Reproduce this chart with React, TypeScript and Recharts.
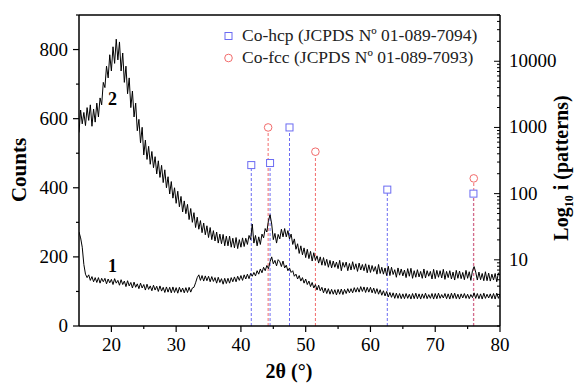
import {
    ComposedChart,
    Line,
    Scatter,
    XAxis,
    YAxis,
    ReferenceLine
} from 'recharts';

// XRD patterns, counts every 0.25° from 15° to 80°
const angleStart = 15;
const angleStep = 0.25;

const sample2Counts = [
    560, 625, 585, 618, 580, 632, 595, 640, 578, 628, 590, 645, 605, 660, 640, 705,
    690, 752, 718, 785, 738, 808, 760, 830, 770, 822, 738, 790, 705, 752, 672, 718,
    632, 680, 605, 645, 565, 598, 530, 575, 495, 538, 482, 520, 468, 505, 458, 490,
    440, 478, 430, 465, 415, 452, 400, 432, 382, 418, 370, 400, 355, 390, 345, 375,
    330, 362, 325, 352, 308, 340, 300, 328, 285, 315, 280, 305, 270, 298, 264, 290,
    256, 285, 250, 276, 246, 272, 240, 266, 238, 265, 232, 260, 232, 260, 228, 254,
    226, 256, 224, 250, 228, 255, 230, 254, 236, 262, 250, 295, 240, 262, 232, 258,
    236, 266, 255, 282, 272, 305, 322, 295, 250, 268, 240, 265, 252, 280, 258, 282,
    258, 276, 252, 266, 236, 252, 222, 238, 210, 232, 206, 226, 198, 222, 195, 216,
    188, 212, 190, 203, 182, 200, 176, 198, 175, 193, 170, 190, 168, 188, 170, 185,
    166, 190, 160, 184, 170, 185, 160, 181, 162, 186, 164, 180, 158, 182, 162, 178,
    160, 180, 154, 177, 155, 175, 158, 172, 150, 178, 152, 170, 150, 168, 146, 173,
    146, 170, 149, 163, 141, 168, 147, 165, 145, 162, 140, 166, 144, 167, 138, 160,
    141, 163, 142, 158, 138, 165, 139, 160, 144, 158, 136, 164, 137, 161, 141, 160,
    139, 164, 135, 158, 140, 160, 136, 156, 133, 161, 138, 159, 137, 155, 134, 161,
    138, 157, 132, 160, 172, 156, 133, 156, 134, 152, 131, 157, 131, 153, 130, 150,
    133, 152, 128, 154, 146
];

const sample1Counts = [
    272, 255, 228, 178, 150, 140, 148, 132, 143, 128, 140, 126, 140, 124, 138, 128,
    138, 122, 136, 125, 135, 120, 137, 124, 132, 118, 134, 120, 130, 114, 131, 116,
    126, 110, 127, 112, 122, 108, 124, 110, 120, 104, 121, 106, 116, 102, 118, 104,
    115, 100, 116, 101, 112, 97, 113, 98, 112, 96, 113, 97, 111, 95, 112, 98,
    110, 96, 111, 97, 112, 98, 110, 112, 125, 140, 148, 132, 146, 130, 145, 131,
    144, 128, 143, 129, 140, 124, 141, 126, 137, 121, 138, 123, 138, 124, 140, 128,
    142, 128, 144, 132, 146, 132, 148, 136, 150, 137, 152, 144, 155, 145, 160, 150,
    165, 154, 170, 160, 175, 166, 186, 200, 180, 190, 174, 192, 186, 172, 188, 168,
    176, 160, 168, 155, 160, 144, 150, 136, 146, 130, 140, 124, 136, 120, 130, 114,
    126, 110, 120, 104, 118, 102, 112, 96, 110, 94, 108, 92, 106, 92, 105, 90,
    106, 92, 107, 91, 106, 94, 108, 96, 108, 96, 111, 98, 111, 98, 114, 100,
    113, 97, 112, 98, 112, 96, 110, 94, 108, 92, 105, 89, 102, 87, 100, 84,
    97, 83, 96, 80, 95, 80, 94, 79, 93, 79, 94, 80, 92, 78, 94, 79,
    95, 79, 93, 78, 93, 80, 95, 79, 91, 80, 94, 78, 94, 79, 95, 80,
    91, 81, 94, 79, 93, 78, 95, 80, 95, 79, 92, 78, 93, 81, 94, 80,
    92, 79, 91, 82, 96, 80, 94, 79, 93, 78, 95, 80, 92, 81, 93, 79,
    94, 78, 95, 80, 92
];

// reference patterns (log scale)
const hcpAngles = [41.6, 44.5, 47.5, 62.6, 75.9];
const hcpIntensity = [270, 290, 1000, 115, 100];
const fccAngles = [44.2, 51.5, 75.95];
const fccIntensity = [1000, 430, 170];

const xTicks = [20, 25, 30, 35, 40, 45, 50, 55, 60, 65, 70, 75, 80];
const countTicks = [0, 100, 200, 300, 400, 500, 600, 700, 800, 900];
const logTicks = [
    1, 2, 3, 4, 5, 6, 7, 8, 9,
    10, 20, 30, 40, 50, 60, 70, 80, 90,
    100, 200, 300, 400, 500, 600, 700, 800, 900,
    1000, 2000, 3000, 4000, 5000, 6000, 7000, 8000, 9000,
    10000, 20000, 30000, 40000, 50000
];
const logLabels = [10, 100, 1000, 10000];

const rows = sample2Counts.map((c, i) => ({
    angle: angleStart + i * angleStep,
    s2: c,
    s1: sample1Counts[i]
}));
const hcpPeaks = hcpAngles.map((a, i) => ({ angle: a, intensity: hcpIntensity[i] }));
const fccPeaks = fccAngles.map((a, i) => ({ angle: a, intensity: fccIntensity[i] }));

const BLUE = '#6b6bf2';
const RED = '#f26b6b';
const FONT = '"Liberation Serif", "Times New Roman", serif';

const XTick = ({ x, y, payload }: any) => {
    const major = payload.value % 10 === 0;
    return (
        <g>
            <line x1={x} x2={x} y1={y} y2={y + (major ? 6 : 3)} stroke="#000" strokeWidth={1.2} />
            {major && (
                <text x={x} y={y + 25} textAnchor="middle" fontSize={19} fontFamily={FONT} fill="#000">
                    {payload.value}
                </text>
            )}
        </g>
    );
};

const LeftTick = ({ x, y, payload }: any) => {
    const major = payload.value % 200 === 0;
    return (
        <g>
            <line x1={x} x2={x - (major ? 6 : 3)} y1={y} y2={y} stroke="#000" strokeWidth={1.2} />
            {major && (
                <text x={x - 11} y={y + 6} textAnchor="end" fontSize={19} fontFamily={FONT} fill="#000">
                    {payload.value}
                </text>
            )}
        </g>
    );
};

const RightTick = ({ x, y, payload }: any) => {
    const major = logLabels.includes(payload.value);
    return (
        <g>
            <line x1={x} x2={x - (major ? 6 : 3)} y1={y} y2={y} stroke="#000" strokeWidth={1} />
            {major && (
                <text x={x + 9} y={y + 6} textAnchor="start" fontSize={19} fontFamily={FONT} fill="#000">
                    {payload.value}
                </text>
            )}
        </g>
    );
};

const Square = ({ cx, cy }: any) => (
    <rect x={cx - 3.5} y={cy - 3.5} width={7} height={7} fill="#fff" stroke={BLUE} strokeWidth={1} />
);
const Ring = ({ cx, cy }: any) => (
    <circle cx={cx} cy={cy} r={3.8} fill="#fff" stroke={RED} strokeWidth={1} />
);

const text = (style: React.CSSProperties, children: React.ReactNode) => (
    <div style={{ position: 'absolute', fontFamily: FONT, color: '#000', whiteSpace: 'nowrap', lineHeight: 1, ...style }}>
        {children}
    </div>
);

const App = () => {
    return (
        <div style={{ position: 'absolute', left: 0, top: 0, width: 575, height: 383, background: '#fff', overflow: 'hidden' }}>
            <ComposedChart width={575} height={383} data={rows} margin={{ top: 15, right: 0, bottom: 0, left: 0 }}>
                <XAxis
                    dataKey="angle"
                    type="number"
                    domain={[15, 80]}
                    ticks={xTicks}
                    interval={0}
                    height={57}
                    tickSize={0}
                    tickMargin={0}
                    tickLine={false}
                    tick={<XTick />}
                    axisLine={{ stroke: '#000', strokeWidth: 1.5 }}
                    allowDataOverflow
                />
                <YAxis
                    yAxisId="left"
                    width={79}
                    domain={[0, 900]}
                    ticks={countTicks}
                    interval={0}
                    tickSize={0}
                    tickMargin={0}
                    tickLine={false}
                    tick={<LeftTick />}
                    axisLine={{ stroke: '#000', strokeWidth: 1.5 }}
                    allowDataOverflow
                />
                <YAxis
                    yAxisId="right"
                    orientation="right"
                    width={75}
                    scale="log"
                    type="number"
                    domain={[1, 50000]}
                    ticks={logTicks}
                    interval={0}
                    tickSize={0}
                    tickMargin={0}
                    tickLine={false}
                    tick={<RightTick />}
                    axisLine={{ stroke: '#000', strokeWidth: 1.5 }}
                    allowDataOverflow
                />
                <ReferenceLine yAxisId="left" y={900} stroke="#000" strokeWidth={1.5} />
                {hcpPeaks.map((p) => (
                    <ReferenceLine
                        key={'h' + p.angle}
                        yAxisId="right"
                        segment={[{ x: p.angle, y: 1 }, { x: p.angle, y: p.intensity }]}
                        stroke={BLUE}
                        strokeDasharray="3 2"
                        strokeWidth={1}
                    />
                ))}
                {fccPeaks.map((p) => (
                    <ReferenceLine
                        key={'f' + p.angle}
                        yAxisId="right"
                        segment={[{ x: p.angle, y: 1 }, { x: p.angle, y: p.intensity }]}
                        stroke={RED}
                        strokeDasharray="3 2"
                        strokeWidth={1}
                    />
                ))}
                <Line yAxisId="left" dataKey="s1" type="linear" stroke="#000" strokeWidth={1} dot={false} isAnimationActive={false} />
                <Line yAxisId="left" dataKey="s2" type="linear" stroke="#000" strokeWidth={1} dot={false} isAnimationActive={false} />
                <Scatter yAxisId="right" data={hcpPeaks} dataKey="intensity" shape={<Square />} isAnimationActive={false} />
                <Scatter yAxisId="right" data={fccPeaks} dataKey="intensity" shape={<Ring />} isAnimationActive={false} />
            </ComposedChart>

            {/* legend */}
            <svg style={{ position: 'absolute', left: 222, top: 30 }} width={14} height={36}>
                <rect x={3} y={2.5} width={7} height={7} fill="#fff" stroke={BLUE} />
                <circle cx={6.5} cy={28} r={3.8} fill="#fff" stroke={RED} />
            </svg>
            {text({ left: 242, top: 27, fontSize: 17.5, color: '#222' }, 'Co-hcp (JCPDS Nº 01-089-7094)')}
            {text({ left: 242, top: 49, fontSize: 17.5, color: '#222' }, 'Co-fcc (JCPDS Nº 01-089-7093)')}

            {/* curve labels */}
            {text({ left: 108, top: 90, fontSize: 18, fontWeight: 'bold' }, '2')}
            {text({ left: 108, top: 257, fontSize: 18, fontWeight: 'bold' }, '1')}

            {/* axis titles */}
            {text({ left: 289, top: 371, fontSize: 20, fontWeight: 'bold', transform: 'translate(-50%, -50%)' }, '2θ (°)')}
            {text({ left: 19, top: 170, fontSize: 21, fontWeight: 'bold', transform: 'translate(-50%, -50%) rotate(-90deg)' }, 'Counts')}
            {text(
                { left: 561, top: 168, fontSize: 20, fontWeight: 'bold', transform: 'translate(-50%, -50%) rotate(-90deg)' },
                <span>Log<sub style={{ fontSize: 12, verticalAlign: 'baseline', position: 'relative', top: 5 }}>10</sub> i (patterns)</span>
            )}
        </div>
    );
};

export default App;
